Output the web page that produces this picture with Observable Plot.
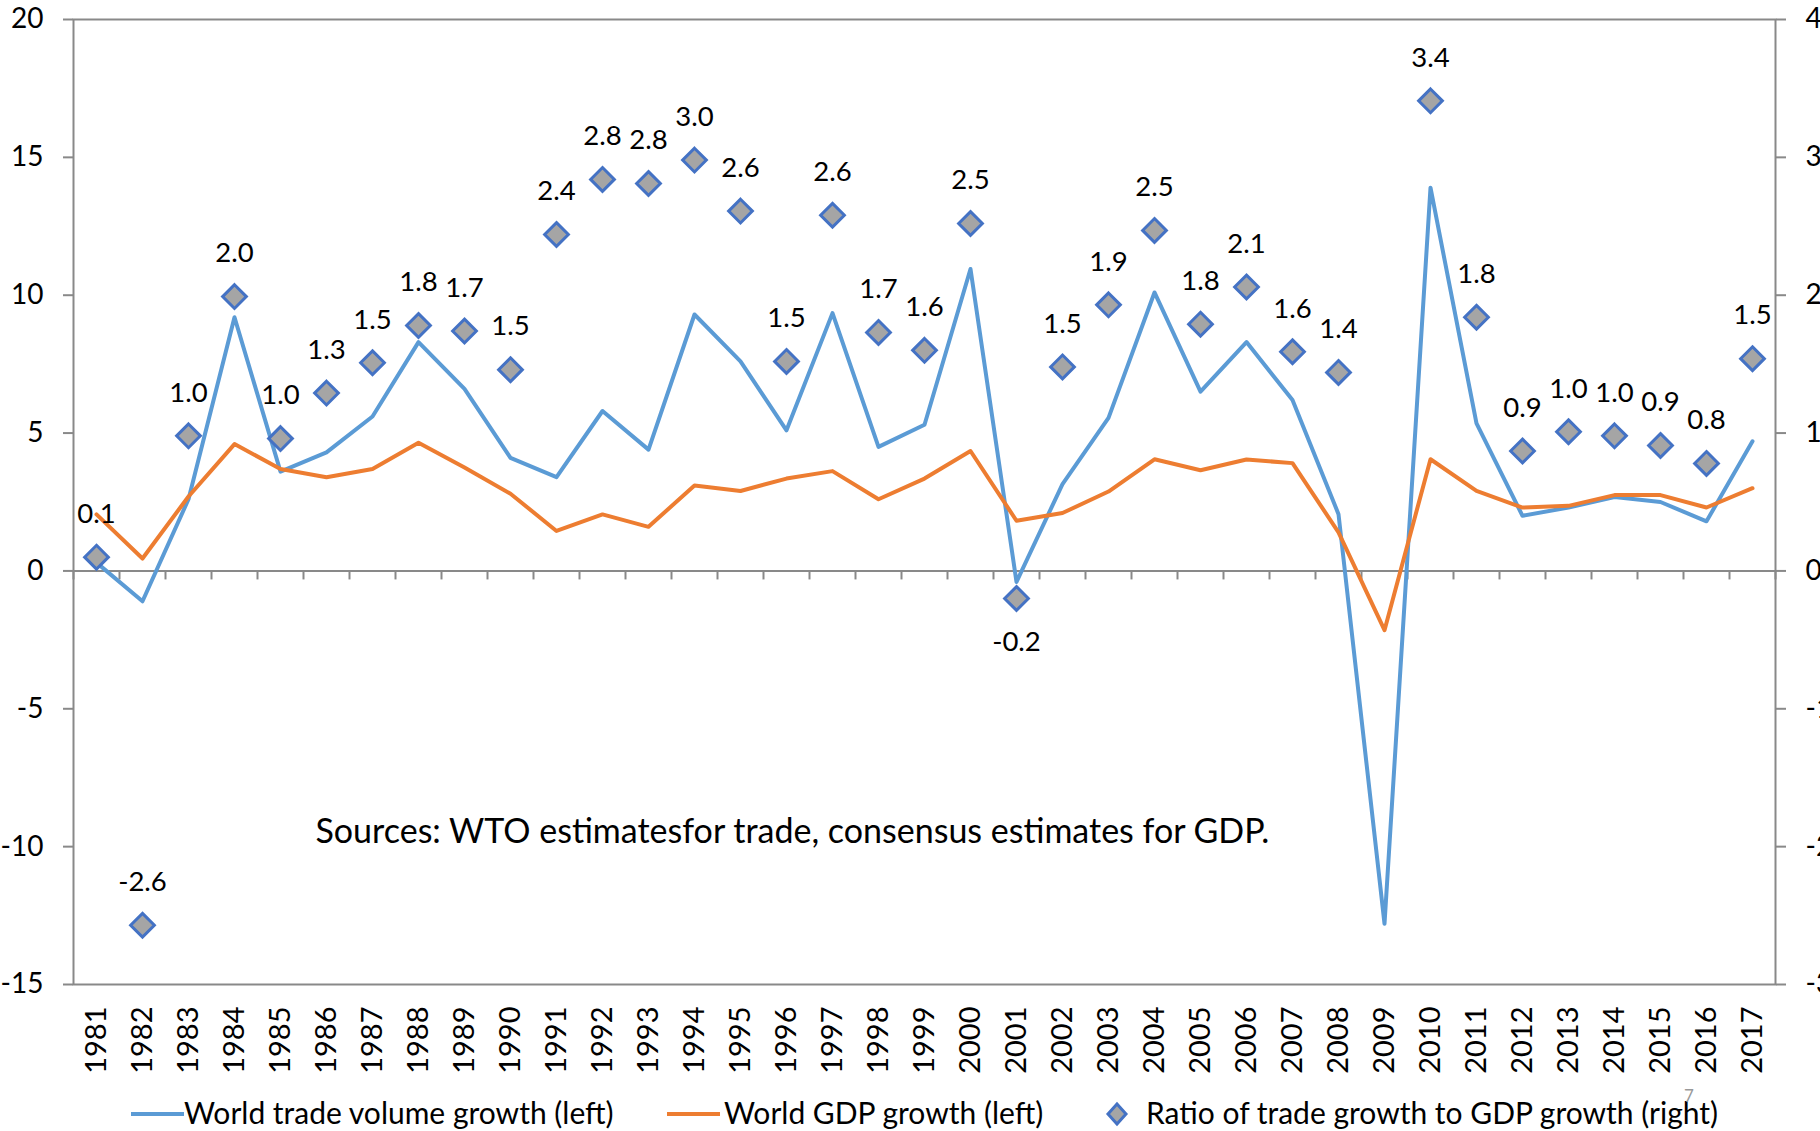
<!DOCTYPE html>
<html>
<head>
<meta charset="utf-8">
<script src="https://cdn.jsdelivr.net/npm/d3@7"></script>
<script src="https://cdn.jsdelivr.net/npm/@observablehq/plot@0.6"></script>
<style>
  html, body { margin: 0; padding: 0; background: #fff; }
  #wrap { position: relative; width: 1820px; height: 1131px; overflow: hidden; font-family: Lato, "Open Sans", sans-serif; }
  #chart svg { display: block; }
  .leg { position: absolute; font-size: 30px; line-height: 32px; color: #000; white-space: nowrap; }
  .legline { position: absolute; height: 4px; }
</style>
</head>
<body>
<div id="wrap">
  <div id="chart"></div>
  <div id="legend"></div>
</div>
<script>
// ---- data ----
const years = [1981,1982,1983,1984,1985,1986,1987,1988,1989,1990,1991,1992,1993,1994,1995,1996,1997,1998,1999,2000,2001,2002,2003,2004,2005,2006,2007,2008,2009,2010,2011,2012,2013,2014,2015,2016,2017];
const tradeGrowth = [0.3,-1.1,2.6,9.2,3.6,4.3,5.6,8.3,6.6,4.1,3.4,5.8,4.4,9.3,7.6,5.1,9.35,4.5,5.3,10.95,-0.4,3.15,5.55,10.1,6.5,8.3,6.2,2.06,-12.8,13.9,5.35,2.0,2.3,2.68,2.5,1.8,4.7];
const gdpGrowth = [2.05,0.45,2.7,4.6,3.7,3.4,3.7,4.65,3.75,2.8,1.45,2.05,1.6,3.1,2.9,3.35,3.62,2.6,3.35,4.35,1.82,2.1,2.88,4.05,3.65,4.04,3.91,1.4,-2.15,4.05,2.9,2.3,2.36,2.75,2.75,2.3,3.0];
const ratio = [0.1,-2.57,0.98,1.99,0.96,1.29,1.51,1.78,1.74,1.46,2.44,2.84,2.81,2.98,2.61,1.52,2.58,1.73,1.6,2.52,-0.2,1.48,1.93,2.47,1.79,2.06,1.59,1.44,6.1,3.41,1.84,0.87,1.01,0.98,0.91,0.78,1.54];
const leftTicks = [-15,-10,-5,0,5,10,15,20];
const rightTicks = [-3,-2,-1,0,1,2,3,4];
const seriesNames = ["World trade volume growth (left)", "World GDP growth (left)", "Ratio of trade growth to GDP growth (right)"];
const sourceNote = "Sources: WTO estimatesfor trade, consensus estimates for GDP.";
const pageNumber = "7";
const labelsBelow = [2001];

// ---- styles ----
const BLUE = "#5b9bd5", ORANGE = "#ed7d31", DIAMOND_FILL = "#a5a5a5", DIAMOND_STROKE = "#4472c4", GRAY = "#898989";

// right axis maps onto left axis: factor from the two tick ranges
const F = (leftTicks[leftTicks.length - 1] - leftTicks[0]) / (rightTicks[rightTicks.length - 1] - rightTicks[0]);

const rows = years.map((year, i) => ({year, trade: tradeGrowth[i], gdp: gdpGrowth[i], ratio: ratio[i], ratioL: ratio[i] * F, label: ratio[i].toFixed(1)}));
const boundaries = [years[0] - 0.5, ...years.map(y => y + 0.5)];

const chart = Plot.plot({
  width: 1820,
  height: 1080,
  marginLeft: 73,
  marginRight: 45,
  marginTop: 19,
  marginBottom: 96,
  style: {fontFamily: "Lato, 'Open Sans', sans-serif", background: "#fff", color: "#000"},
  x: {type: "linear", domain: [years[0] - 0.5, years[years.length - 1] + 0.5], label: null},
  y: {domain: [leftTicks[0], leftTicks[leftTicks.length - 1]], label: null},
  marks: [
    Plot.frame({stroke: GRAY, strokeWidth: 2}),
    Plot.ruleY([0], {stroke: GRAY, strokeWidth: 2}),
    Plot.ruleX(boundaries, {x: d => d, y1: 0, y2: 0, insetBottom: -9, stroke: GRAY, strokeWidth: 2}),
    Plot.axisY(leftTicks, {anchor: "left", label: null, tickSize: 10, tickPadding: 20, fontSize: 28, stroke: GRAY, strokeWidth: 2, fill: "#000", tickFormat: d => String(d)}),
    Plot.axisY(leftTicks, {anchor: "right", label: null, tickSize: 10, tickPadding: 20, fontSize: 28, stroke: GRAY, strokeWidth: 2, fill: "#000", tickFormat: d => String(d / F)}),
    Plot.axisX(years, {anchor: "bottom", label: null, tickSize: 0, tickPadding: 22, tickRotate: -90, fontSize: 29, fill: "#000", tickFormat: d => String(d)}),
    Plot.line(rows, {x: "year", y: "trade", stroke: BLUE, strokeWidth: 4, strokeLinejoin: "round"}),
    Plot.line(rows, {x: "year", y: "gdp", stroke: ORANGE, strokeWidth: 4, strokeLinejoin: "round"}),
    Plot.dot(rows, {x: "year", y: "ratioL", symbol: "diamond2", r: 10.7, fill: DIAMOND_FILL, stroke: DIAMOND_STROKE, strokeWidth: 3, clip: true}),
    Plot.text(rows.filter(d => !labelsBelow.includes(d.year)), {x: "year", y: "ratioL", text: "label", dy: -43, lineAnchor: "middle", fontSize: 27.5, fill: "#000", clip: true}),
    Plot.text(rows.filter(d => labelsBelow.includes(d.year)), {x: "year", y: "ratioL", text: "label", dy: 44, lineAnchor: "middle", fontSize: 27.5, fill: "#000", clip: true}),
    Plot.text([sourceNote], {text: d => d, frameAnchor: "top-left", dx: 242, dy: 813, textAnchor: "start", lineAnchor: "middle", fontSize: 34, fill: "#000"})
  ]
});
document.getElementById("chart").appendChild(chart);

// ---- legend (HTML, below the SVG) ----
const legend = document.getElementById("legend");
const items = [
  {kind: "line", color: BLUE, lineLeft: 131, textLeft: 184, name: seriesNames[0]},
  {kind: "line", color: ORANGE, lineLeft: 667, textLeft: 724, name: seriesNames[1]},
  {kind: "diamond", lineLeft: 1104, textLeft: 1146, name: seriesNames[2]}
];
for (const it of items) {
  if (it.kind === "line") {
    const l = document.createElement("div");
    l.className = "legline";
    l.style.left = it.lineLeft + "px";
    l.style.top = "1112px";
    l.style.width = "53px";
    l.style.background = it.color;
    legend.appendChild(l);
  } else {
    const s = document.createElementNS("http://www.w3.org/2000/svg", "svg");
    s.setAttribute("width", 26); s.setAttribute("height", 26);
    s.style.position = "absolute"; s.style.left = it.lineLeft + "px"; s.style.top = "1101px";
    s.innerHTML = `<path d="M13,3 L22,13 L13,23 L4,13 Z" fill="${DIAMOND_FILL}" stroke="${DIAMOND_STROKE}" stroke-width="3"/>`;
    legend.appendChild(s);
  }
  const t = document.createElement("div");
  t.className = "leg";
  t.style.left = it.textLeft + "px";
  t.style.top = "1096px";
  t.textContent = it.name;
  legend.appendChild(t);
}
const pn = document.createElement("div");
pn.className = "leg";
pn.style.cssText = "left:1684px;top:1086px;font-size:17px;line-height:20px;color:#999;";
pn.textContent = pageNumber;
legend.appendChild(pn);
</script>
</body>
</html>
